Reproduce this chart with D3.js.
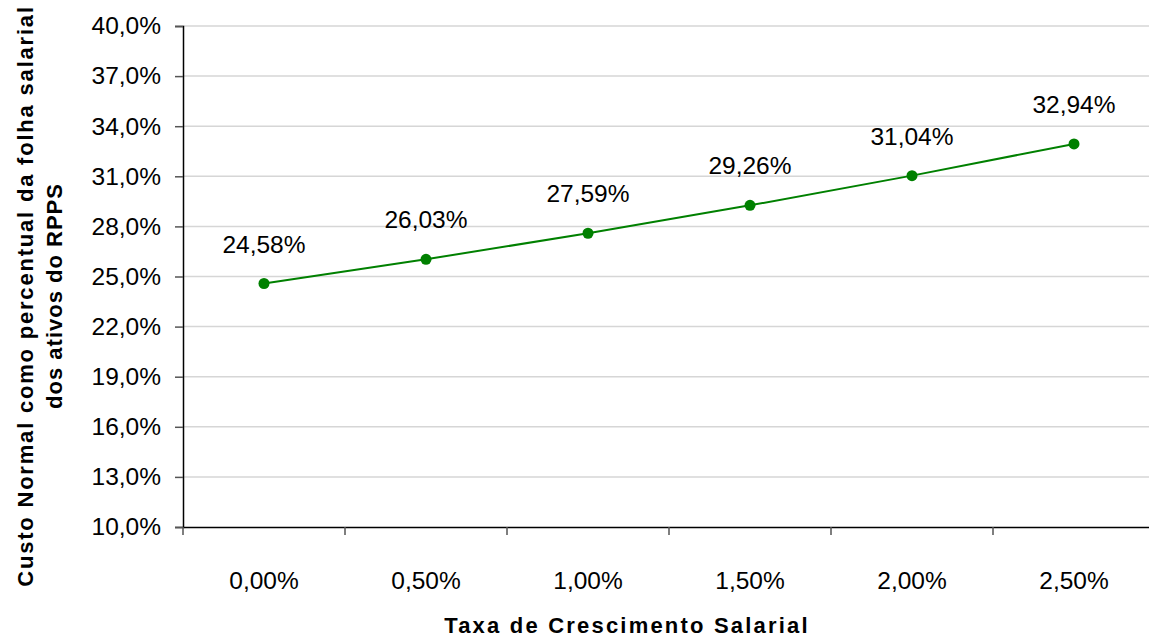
<!DOCTYPE html>
<html>
<head>
<meta charset="utf-8">
<script src="https://cdn.jsdelivr.net/npm/d3@7"></script>
<style>
  body { margin: 0; background: #fff; }
  svg { display: block; font-family: "Liberation Sans", Arial, sans-serif; }
</style>
</head>
<body>
<svg id="chart"></svg>
<script>
const categories = ["0,00%", "0,50%", "1,00%", "1,50%", "2,00%", "2,50%"];
const custoNormal = [24.58, 26.03, 27.59, 29.26, 31.04, 32.94];
const yTicks = [10, 13, 16, 19, 22, 25, 28, 31, 34, 37, 40];

(function () {
  const W = 1149;
  const H = 637;
  const plot = { left: 183, top: 26, right: 1155, bottom: 527 };

  const locale = d3.formatLocale({ decimal: ",", thousands: ".", grouping: [3], currency: ["R$", ""] });
  const fmtTick = (d) => locale.format(".1f")(d) + "%";
  const fmtLabel = (d) => locale.format(".2f")(d) + "%";

  const svg = d3.select("#chart").attr("width", W).attr("height", H);

  const x = d3.scaleBand().domain(categories).range([plot.left, plot.right]).padding(0);
  const y = d3.scaleLinear().domain([10, 40]).range([plot.bottom, plot.top]);

  // gridlines
  svg
    .append("g")
    .selectAll("line")
    .data(yTicks.slice(1))
    .enter()
    .append("line")
    .attr("x1", plot.left)
    .attr("x2", plot.right)
    .attr("y1", (d) => y(d))
    .attr("y2", (d) => y(d))
    .attr("stroke", "#d6d6d6")
    .attr("stroke-width", 1.5);

  // y axis
  const yAxis = svg
    .append("g")
    .attr("transform", `translate(${plot.left},0)`)
    .call(d3.axisLeft(y).tickValues(yTicks).tickFormat(fmtTick).tickSize(8).tickPadding(14));
  yAxis.select(".domain").attr("stroke", "#000").attr("stroke-width", 1.5);
  yAxis.selectAll(".tick line").attr("stroke", "#555").attr("stroke-width", 1.5);
  yAxis.selectAll("text").attr("font-size", "24.5px").attr("fill", "#000").attr("font-family", "Liberation Sans, Arial, sans-serif");

  // x axis
  const xAxis = svg
    .append("g")
    .attr("transform", `translate(0,${plot.bottom})`)
    .call(d3.axisBottom(x).tickSize(0).tickPadding(45));
  xAxis.select(".domain").attr("stroke", "#000").attr("stroke-width", 1.5);
  xAxis.selectAll("text").attr("font-size", "24.5px").attr("fill", "#000").attr("font-family", "Liberation Sans, Arial, sans-serif");

  // tick marks between categories
  const bounds = categories.map((c) => x(c)).concat([x(categories[categories.length - 1]) + x.bandwidth()]);
  svg
    .append("g")
    .selectAll("line")
    .data(bounds)
    .enter()
    .append("line")
    .attr("x1", (d) => d)
    .attr("x2", (d) => d)
    .attr("y1", plot.bottom)
    .attr("y2", plot.bottom + 8)
    .attr("stroke", "#555")
    .attr("stroke-width", 1.5);

  const data = categories.map((c, i) => ({ cat: c, value: custoNormal[i] }));
  const cx = (d) => x(d.cat) + x.bandwidth() / 2;

  const line = d3
    .line()
    .x(cx)
    .y((d) => y(d.value));
  svg
    .append("path")
    .datum(data)
    .attr("fill", "none")
    .attr("stroke", "#008000")
    .attr("stroke-width", 2)
    .attr("d", line);

  svg
    .selectAll(".point")
    .data(data)
    .enter()
    .append("circle")
    .attr("cx", cx)
    .attr("cy", (d) => y(d.value))
    .attr("r", 5.5)
    .attr("fill", "#008000");

  svg
    .selectAll(".label")
    .data(data)
    .enter()
    .append("text")
    .attr("x", cx)
    .attr("y", (d) => y(d.value) - 31)
    .attr("text-anchor", "middle")
    .attr("font-size", "24.5px")
    .attr("fill", "#000")
    .text((d) => fmtLabel(d.value));

  // axis titles
  svg
    .append("text")
    .attr("x", 627)
    .attr("y", 633)
    .attr("text-anchor", "middle")
    .attr("font-size", "22px")
    .attr("font-weight", "bold")
    .attr("letter-spacing", "2.2px")
    .text("Taxa de Crescimento Salarial");

  const yTitle = svg
    .append("text")
    .attr("transform", "translate(0,296) rotate(-90)")
    .attr("text-anchor", "middle")
    .attr("font-size", "22px")
    .attr("font-weight", "bold");
  yTitle
    .append("tspan")
    .attr("x", 0)
    .attr("y", 33)
    .attr("letter-spacing", "1.8px")
    .text("Custo Normal como percentual da folha salarial");
  yTitle
    .append("tspan")
    .attr("x", 0)
    .attr("y", 62)
    .attr("letter-spacing", "1px")
    .text("dos ativos do RPPS");
})();
</script>
</body>
</html>
